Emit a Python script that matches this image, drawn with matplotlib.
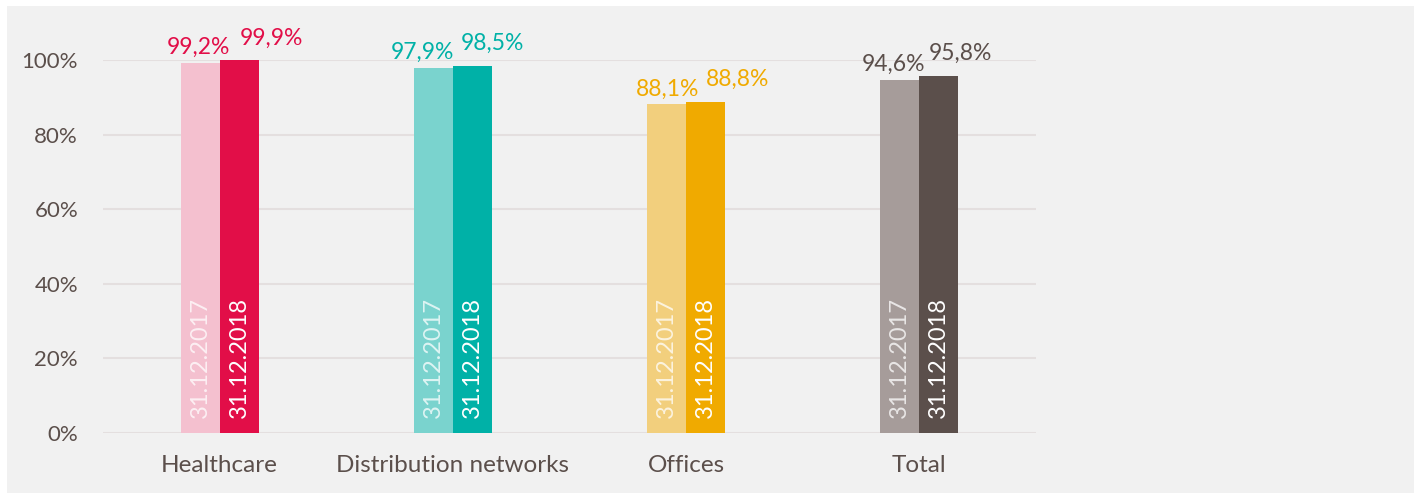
import matplotlib
matplotlib.use("Agg")
import matplotlib.pyplot as plt
from matplotlib.patches import Rectangle
import numpy as np

plt.rcParams['font.family'] = ['Lato', 'DejaVu Sans']

categories = ["Healthcare", "Distribution networks", "Offices", "Total"]
dates = ["31.12.2017", "31.12.2018"]
vals_2017 = [99.2, 97.9, 88.1, 94.6]
vals_2018 = [99.9, 98.5, 88.8, 95.8]
colors_2017 = ["#F4C0CF", "#7AD3CE", "#F2CF7D", "#A69C9A"]
colors_2018 = ["#E20E48", "#00B1A7", "#F0AA00", "#5B4F4B"]
label_colors = ["#E20E48", "#00B1A7", "#F0AA00", "#5B4F4B"]

# horizontal nudges (px) of the value labels, as placed in the original
nudge_2017 = [-2, -11, 1, -6]
nudge_2018 = [32, 20, 32, 22]

text_col = "#5B4F4B"
bg = "#F1F1F1"

fig = plt.figure(figsize=(14.14, 4.96), dpi=100, facecolor="white")
fig.patches.append(Rectangle((7 / 1414, 3 / 496), 1 - 7 / 1414, 487 / 496,
                             transform=fig.transFigure, facecolor=bg,
                             edgecolor="none", zorder=-10))
ax = fig.add_axes([103 / 1414, (496 - 433) / 496, 933 / 1414, 373 / 496])
ax.set_facecolor(bg)

x = np.arange(len(categories))
w = 0.167
ax.bar(x - w / 2, vals_2017, w, color=colors_2017, zorder=3)
ax.bar(x + w / 2, vals_2018, w, color=colors_2018, zorder=3)

px = 72 / 100  # points per pixel
for i in range(len(categories)):
    labels = [(-w / 2, vals_2017[i], nudge_2017[i], 5),
              (w / 2, vals_2018[i], nudge_2018[i], 12)]
    for dx, v, nx, ny in labels:
        ax.annotate(f"{v:.1f}%".replace(".", ","), (x[i] + dx, v),
                    xytext=(nx * px, ny * px), textcoords="offset points",
                    ha="center", va="bottom", fontsize=16.5,
                    color=label_colors[i])
    for dx, d, a in [(-w / 2, dates[0], 0.75), (w / 2, dates[1], 1.0)]:
        ax.text(x[i] + dx, 4, d, rotation=90, ha="center", va="bottom",
                fontsize=17, color="white", alpha=a, zorder=4)

ax.set_xlim(-0.5, 3.5)
ax.set_ylim(0, 100)
ax.set_yticks(np.arange(0, 101, 20))
ax.set_yticklabels([f"{t}%" for t in range(0, 101, 20)])
ax.set_xticks(x)
ax.set_xticklabels(categories)
ax.tick_params(axis="both", length=0, labelcolor=text_col)
ax.tick_params(axis="y", pad=18, labelsize=16)
ax.tick_params(axis="x", pad=16, labelsize=17.5)
ax.grid(axis="y", color="#E4DFDF", linewidth=1.5, zorder=0)
for s in ax.spines.values():
    s.set_visible(False)

fig.savefig("out.png", dpi=100, facecolor="white")
